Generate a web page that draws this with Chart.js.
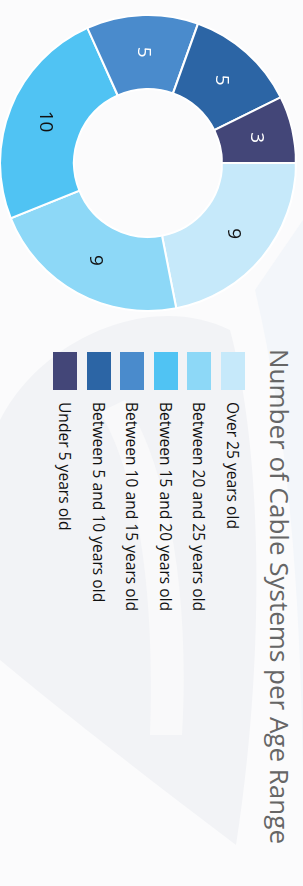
<!DOCTYPE html>
<html>
<head>
<meta charset="utf-8">
<script src="https://cdn.jsdelivr.net/npm/chart.js@4.4.0/dist/chart.umd.min.js"></script>
<style>
  html, body { margin: 0; padding: 0; }
  body { width: 303px; height: 886px; position: relative; overflow: hidden; background: #fbfbfc; font-family: "Open Sans", sans-serif; }
  #bg { position: absolute; left: 0; top: 0; }
  #chart { position: absolute; left: 0; top: 0; width: 886px; height: 303px; transform-origin: 0 0; transform: translateX(303px) rotate(90deg); }
  #donut { position: absolute; left: 14px; top: 6px; width: 298px; height: 298px; }
  #title { position: absolute; left: 349px; top: 5px; font-size: 26px; font-weight: 400; color: #666; white-space: nowrap; }
  #legend { position: absolute; left: 352px; top: 58px; margin: 0; padding: 0; list-style: none; }
  #legend li { height: 33.6px; display: flex; align-items: flex-start; }
  #legend .box { width: 38px; height: 24px; flex: none; }
  #legend .txt { margin-left: 12px; font-size: 15.6px; line-height: 24px; color: #111; white-space: nowrap; }
</style>
</head>
<body>
<svg id="bg" width="303" height="886">
  <path d="M0 420 C 40 340, 150 290, 230 330 C 262 450, 266 650, 236 845 C 150 780, 60 710, 0 660 Z" fill="#f2f3f6"/>
  <path d="M125 400 C 170 470, 190 600, 182 735 L 150 735 C 155 600, 140 480, 100 412 Z" fill="#f9f9fa"/>
  <path d="M255 290 C 290 440, 300 600, 303 770 L 303 220 Z" fill="#f3f6fa"/>
</svg>
<div id="chart">
  <div id="donut"><canvas id="c"></canvas></div>
  <div id="title">Number of Cable Systems per Age Range</div>
  <ul id="legend"></ul>
</div>
<script>
const categories = [
  'Over 25 years old',
  'Between 20 and 25 years old',
  'Between 15 and 20 years old',
  'Between 10 and 15 years old',
  'Between 5 and 10 years old',
  'Under 5 years old'
];
const systemCounts = [9, 9, 10, 5, 5, 3];
const sliceColors = ['#c6e9fa', '#8dd8f7', '#50c3f3', '#4a8bcc', '#2c65a5', '#434678'];
const labelColors = ['#111', '#111', '#111', '#fff', '#fff', '#fff'];

// value labels inside each slice
const sliceLabels = {
  id: 'sliceLabels',
  afterDatasetsDraw(chart) {
    const ctx = chart.ctx;
    const meta = chart.getDatasetMeta(0);
    ctx.save();
    ctx.font = '19px "Open Sans", sans-serif';
    ctx.textAlign = 'center';
    ctx.textBaseline = 'middle';
    meta.data.forEach((arc, i) => {
      const p = arc.tooltipPosition();
      ctx.fillStyle = labelColors[i];
      ctx.fillText(String(systemCounts[i]), p.x, p.y);
    });
    ctx.restore();
  }
};

const legendEl = document.getElementById('legend');
categories.forEach((name, i) => {
  const li = document.createElement('li');
  li.innerHTML = '<span class="box" style="background:' + sliceColors[i] + '"></span><span class="txt">' + name + '</span>';
  legendEl.appendChild(li);
});

new Chart(document.getElementById('c'), {
  type: 'doughnut',
  data: {
    labels: categories,
    datasets: [{
      data: systemCounts,
      backgroundColor: sliceColors,
      borderColor: '#fff',
      borderWidth: 2
    }]
  },
  options: {
    responsive: true,
    maintainAspectRatio: false,
    animation: false,
    cutout: '50%',
    plugins: {
      legend: { display: false },
      tooltip: { enabled: false }
    }
  },
  plugins: [sliceLabels]
});
</script>
</body>
</html>
